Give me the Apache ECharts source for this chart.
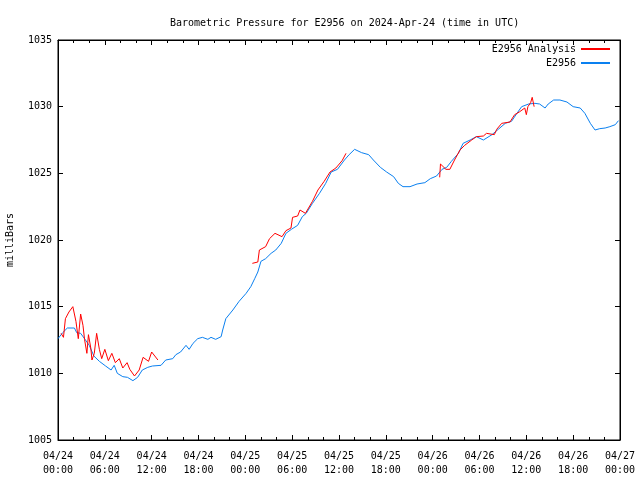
<!DOCTYPE html>
<html>
<head>
<meta charset="utf-8">
<script src="https://cdn.jsdelivr.net/npm/echarts@6/dist/echarts.min.js"></script>
<style>html,body{margin:0;padding:0;background:#fff;}#c{width:640px;height:480px;}</style>
</head>
<body>
<div id="c"></div>
<script>
// Hours since 2024-04-24 00:00 UTC
const xTickLabels = ['04/24\n00:00','04/24\n06:00','04/24\n12:00','04/24\n18:00','04/25\n00:00','04/25\n06:00','04/25\n12:00','04/25\n18:00','04/26\n00:00','04/26\n06:00','04/26\n12:00','04/26\n18:00','04/27\n00:00'];

const blueHours = [0.0,0.6,1.2,2.1,2.4,2.9,3.4,4.0,4.6,5.3,6.1,6.8,7.2,7.6,8.3,8.9,9.6,10.2,10.8,11.5,12.1,13.2,13.8,14.7,15.1,15.7,16.4,16.8,17.3,17.9,18.5,19.2,19.6,20.2,20.9,21.1,21.5,22.4,23.2,24.1,24.7,25.2,25.6,26.0,26.6,27.3,27.9,28.6,29.2,29.9,30.7,31.3,31.8,32.6,33.5,34.3,35.0,35.8,36.7,37.3,38.0,38.9,39.8,40.4,41.3,42.1,43.0,43.6,44.2,45.1,46.0,47.0,47.7,48.5,49.2,49.8,50.4,51.3,51.9,52.8,53.6,54.5,55.6,56.4,57.3,58.1,58.8,59.4,60.3,61.1,61.7,62.4,62.8,63.5,64.3,65.2,66.0,66.9,67.5,68.2,68.8,69.4,70.1,70.7,71.4,71.8];
const blueValues = [1012.6,1013.05,1013.4,1013.4,1013.05,1013.0,1012.6,1012.1,1011.3,1010.9,1010.55,1010.25,1010.6,1010.0,1009.75,1009.7,1009.45,1009.7,1010.25,1010.45,1010.55,1010.6,1011.0,1011.1,1011.4,1011.6,1012.1,1011.8,1012.25,1012.6,1012.7,1012.55,1012.7,1012.55,1012.75,1013.25,1014.1,1014.75,1015.4,1016.0,1016.5,1017.1,1017.6,1018.4,1018.6,1019.0,1019.25,1019.75,1020.5,1020.8,1021.1,1021.75,1022.0,1022.75,1023.5,1024.25,1025.1,1025.3,1026.0,1026.4,1026.8,1026.55,1026.4,1026.0,1025.45,1025.1,1024.75,1024.25,1024.0,1024.0,1024.2,1024.3,1024.6,1024.8,1025.3,1025.45,1025.9,1026.5,1027.25,1027.5,1027.75,1027.5,1027.9,1028.3,1028.75,1028.9,1029.5,1030.0,1030.2,1030.25,1030.2,1029.9,1030.2,1030.5,1030.5,1030.35,1030.0,1029.9,1029.5,1028.75,1028.25,1028.35,1028.4,1028.5,1028.65,1028.95];

const redHours = [0.4,0.7,0.95,1.4,1.9,2.3,2.6,2.9,3.2,3.4,3.7,3.9,4.2,4.35,4.65,4.95,5.3,5.6,6.0,6.45,6.9,7.35,7.85,8.3,8.85,9.2,9.8,10.4,10.9,11.6,12.0,12.8,18.0,24.9,25.6,25.8,26.6,27.1,27.8,28.7,29.2,29.85,30.05,30.7,31.0,31.7,32.6,33.3,34.1,34.85,35.6,36.4,36.9,42.0,48.9,49.0,49.7,50.2,50.8,51.5,52.1,53.0,53.6,54.5,54.9,55.9,56.2,56.85,57.9,58.5,59.1,59.8,60.0,60.2,60.55,60.75,61.0];
const redValues = [1013.0,1012.7,1014.1,1014.6,1015.0,1013.9,1012.6,1014.45,1013.6,1012.55,1011.5,1012.9,1011.9,1011.0,1011.5,1013.0,1011.8,1011.1,1011.8,1010.95,1011.5,1010.8,1011.1,1010.4,1010.8,1010.3,1009.8,1010.25,1011.2,1010.9,1011.6,1011.0,null,1018.25,1018.35,1019.25,1019.5,1020.1,1020.5,1020.25,1020.7,1020.9,1021.7,1021.8,1022.25,1022.0,1022.9,1023.75,1024.4,1025.1,1025.4,1025.95,1026.5,null,1024.7,1025.7,1025.3,1025.3,1026.0,1026.75,1027.1,1027.5,1027.75,1027.8,1028.0,1027.9,1028.3,1028.75,1028.85,1029.4,1029.6,1029.9,1029.4,1030.0,1030.3,1030.7,1030.0];

const FONT = 'DejaVu Sans Mono';
const blueData = blueHours.map((h,i)=>[h, blueValues[i]]);
const redData = redHours.map((h,i)=>[h, redValues[i]===null ? '-' : redValues[i]]);

const chart = echarts.init(document.getElementById('c'), null, {renderer:'canvas'});
const xBase = {
  type:'value', min:0, max:72, interval:6,
  axisLine:{show:true, onZero:false, lineStyle:{color:'#000', width:1}},
  axisTick:{show:true, inside:true, length:5, lineStyle:{color:'#000'}},
  minorTick:{show:true, splitNumber:3, length:3, lineStyle:{color:'#000'}},
  splitLine:{show:false}, minorSplitLine:{show:false}
};
const yBase = {
  type:'value', min:1005, max:1035, interval:5,
  axisLine:{show:true, onZero:false, lineStyle:{color:'#000', width:1}},
  axisTick:{show:true, inside:true, length:5, lineStyle:{color:'#000'}},
  splitLine:{show:false}
};
chart.setOption({
  animation:false,
  backgroundColor:'#fff',
  textStyle:{fontFamily:FONT},
  title:{text:'Barometric Pressure for E2956 on 2024-Apr-24 (time in UTC)', left:165, top:13,
    textStyle:{fontFamily:FONT, fontSize:10, fontWeight:'normal', color:'#000'}},
  grid:{left:58, right:20, top:40, bottom:40, containLabel:false, outerBoundsMode:'none',
    show:true, borderColor:'#000', borderWidth:1, backgroundColor:'transparent'},
  legend:[
    {data:['E2956 Analysis'], right:30, top:44, align:'right', itemWidth:29, itemHeight:2, itemGap:6, icon:'rect', padding:0,
      textStyle:{fontFamily:FONT, fontSize:10, color:'#000'}},
    {data:['E2956'], right:30, top:58, align:'right', itemWidth:29, itemHeight:2, itemGap:6, icon:'rect', padding:0,
      textStyle:{fontFamily:FONT, fontSize:10, color:'#000'}}
  ],
  xAxis:[
    Object.assign({}, xBase, {position:'bottom',
      axisLabel:{show:true, margin:9, fontFamily:FONT, fontSize:10, color:'#000', lineHeight:14,
        formatter:(v)=>xTickLabels[Math.round(v/6)]}}),
    Object.assign({}, xBase, {position:'top', axisLabel:{show:false}})
  ],
  yAxis:[
    Object.assign({}, yBase, {position:'left', name:'milliBars', nameLocation:'middle', nameGap:43, nameRotate:90,
      nameTextStyle:{fontFamily:FONT, fontSize:10, color:'#000'},
      axisLabel:{show:true, margin:6, fontFamily:FONT, fontSize:10, color:'#000', formatter:(v)=>String(v)}}),
    Object.assign({}, yBase, {position:'right', axisLabel:{show:false}})
  ],
  series:[
    {name:'E2956 Analysis', type:'line', data:redData, xAxisIndex:0, yAxisIndex:0, showSymbol:false, symbol:'none',
      connectNulls:false, color:'#ff0000', lineStyle:{color:'#ff0000', width:1}, z:3},
    {name:'E2956', type:'line', data:blueData, xAxisIndex:0, yAxisIndex:0, showSymbol:false, symbol:'none',
      color:'#0a80f0', lineStyle:{color:'#0a80f0', width:1}, z:2}
  ]
});
</script>
</body>
</html>
